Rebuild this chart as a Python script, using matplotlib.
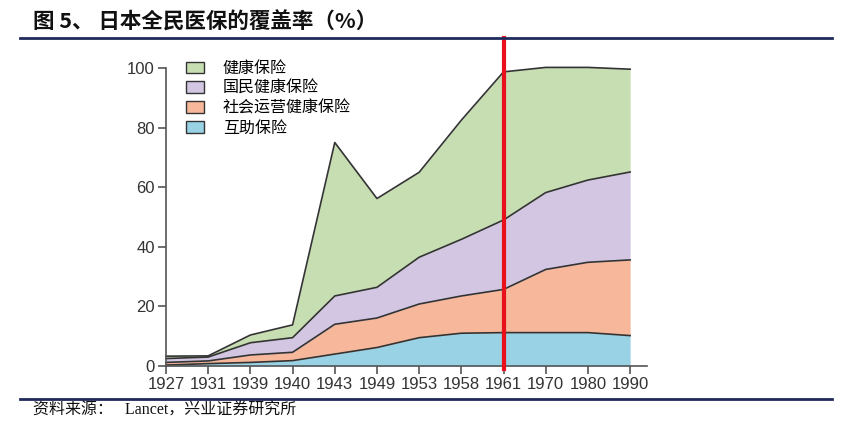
import numpy as np
import matplotlib
matplotlib.use('Agg')
import matplotlib.pyplot as plt
from matplotlib.patches import Patch

plt.rcParams['font.family'] = ['Noto Sans CJK SC', 'DejaVu Sans']

years = ['1927', '1931', '1939', '1940', '1943', '1949', '1953', '1958', '1961', '1970', '1980', '1990']
# cumulative tops (%)
mutual_top = [0.3, 0.8, 1.2, 1.8, 4.0, 6.2, 9.5, 11.0, 11.2, 11.2, 11.2, 10.2]
social_top = [1.2, 1.7, 3.7, 4.6, 14.0, 16.1, 20.8, 23.5, 25.7, 32.4, 34.8, 35.6]
national_top = [2.5, 3.0, 7.8, 9.5, 23.5, 26.4, 36.5, 42.5, 49.0, 58.2, 62.4, 65.1]
health_top = [3.3, 3.4, 10.4, 13.8, 75.0, 56.2, 65.0, 82.5, 98.7, 100.2, 100.2, 99.6]

labels = ['健康保险', '国民健康保险', '社会运营健康保险', '互助保险']
colors = ['#c7deb3', '#d2c6e2', '#f7b79a', '#98d2e4']
edge = '#333333'
highlight_year = '1961'

fig = plt.figure(figsize=(8.64, 4.22), dpi=100)
ax = fig.add_axes([166 / 864, 1 - 366 / 422, (647 - 166) / 864, (366 - 68) / 422])

x = np.arange(len(years))
layers = [np.array(mutual_top), np.array(social_top), np.array(national_top), np.array(health_top)]
fill_cols = colors[::-1]
prev = np.zeros(len(years))
for top, c in zip(layers, fill_cols):
    ax.fill_between(x, prev, top, color=c, lw=0, clip_on=False)
    ax.plot(x, top, color=edge, lw=1.2, clip_on=False)
    prev = top

xi = years.index(highlight_year)
ax.plot([xi, xi], [-1, 110], color='#e8101a', lw=3, clip_on=False, zorder=5)

ax.set_xlim(0, 11.4)
ax.set_ylim(0, 100)
ax.set_xticks(x)
ax.set_xticklabels(years)
ax.set_yticks([0, 20, 40, 60, 80, 100])
for s in ['top', 'right']:
    ax.spines[s].set_visible(False)
for s in ['left', 'bottom']:
    ax.spines[s].set_color('#555555')
    ax.spines[s].set_linewidth(1.2)
ax.tick_params(length=6, width=1.2, color='#555555', labelsize=12, labelcolor='#333333', pad=2)
for t in ax.get_xticklabels() + ax.get_yticklabels():
    t.set_family(['Liberation Sans', 'DejaVu Sans'])

handles = [Patch(facecolor=c, edgecolor=edge, lw=1) for c in colors]
ax.legend(handles, labels, loc='upper left', bbox_to_anchor=(0.012, 1.075), frameon=False,
          fontsize=11.5, handlelength=1.1, handleheight=0.75, handletextpad=1.2,
          labelspacing=0.18)

fig.text(33 / 864, 1 - 22 / 422, '图 5、 日本全民医保的覆盖率（%）', fontsize=15.5, fontweight='bold',
         va='center', ha='left', color='#111111')
fig.add_artist(plt.Line2D([20 / 864, 832 / 864], [1 - 38 / 422] * 2, color='#1f2a5a', lw=2))
fig.add_artist(plt.Line2D([20 / 864, 832 / 864], [1 - 399 / 422] * 2, color='#1f2a5a', lw=2))
fig.text(33 / 864, 1 - 411 / 422, '资料来源：   Lancet，兴业证券研究所', fontsize=11.5,
         va='center', ha='left', color='#111111',
         family=['Liberation Serif', 'Noto Sans CJK SC'])

fig.savefig('out.png', dpi=100)
